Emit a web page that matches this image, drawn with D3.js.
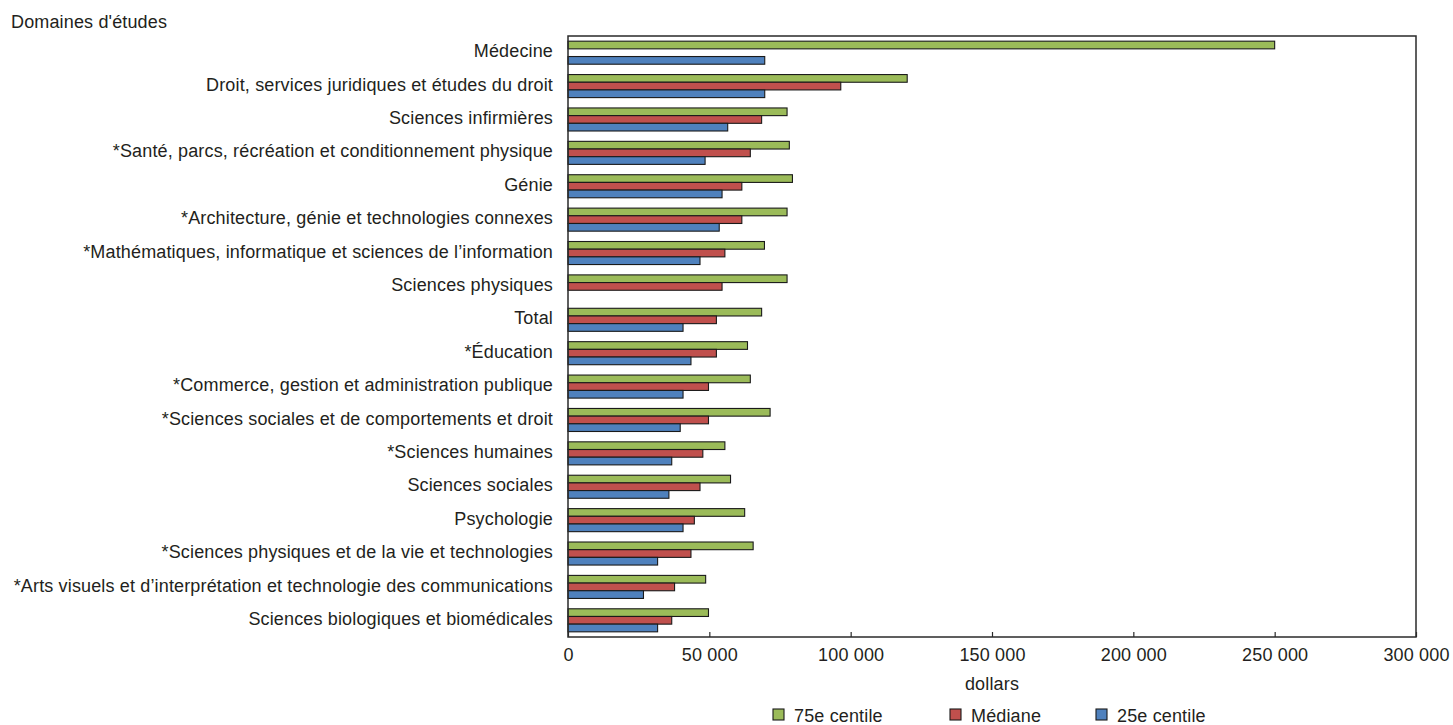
<!DOCTYPE html>
<html>
<head>
<meta charset="utf-8">
<script src="https://cdn.jsdelivr.net/npm/d3@7"></script>
<style>
  html, body { margin: 0; padding: 0; background: #ffffff; }
  svg text { font-family: "Liberation Sans", Arial, sans-serif; fill: #231f20; }
</style>
</head>
<body>
<svg id="chart" width="1453" height="725"></svg>
<script>
const categories = [
  "Médecine",
  "Droit, services juridiques et études du droit",
  "Sciences infirmières",
  "*Santé, parcs, récréation et conditionnement physique",
  "Génie",
  "*Architecture, génie et technologies connexes",
  "*Mathématiques, informatique et sciences de l’information",
  "Sciences physiques",
  "Total",
  "*Éducation",
  "*Commerce, gestion et administration publique",
  "*Sciences sociales et de comportements et droit",
  "*Sciences humaines",
  "Sciences sociales",
  "Psychologie",
  "*Sciences physiques et de la vie et technologies",
  "*Arts visuels et d’interprétation et technologie des communications",
  "Sciences biologiques et biomédicales"
];
const p75 =    [250000, 120000, 77500, 78300, 79400, 77500, 69500, 77500, 68500, 63500, 64500, 71500, 55500, 57500, 62500, 65500, 48700, 49700];
const median = [null,    96500, 68500, 64500, 61500, 61500, 55500, 54500, 52500, 52500, 49700, 49700, 47700, 46700, 44700, 43500, 37700, 36700];
const p25 =    [69600,   69600, 56500, 48500, 54500, 53500, 46700, null,  40700, 43500, 40700, 39700, 36700, 35700, 40700, 31700, 26700, 31700];
const seriesNames = ["75e centile", "Médiane", "25e centile"];
const seriesColors = ["#9bbb59", "#c0504d", "#4f81bd"];
const xTicks = [0, 50000, 100000, 150000, 200000, 250000, 300000];
const axisTitle = "dollars";
const yTitle = "Domaines d'études";

const svg = d3.select("#chart");
const plot = { left: 568, right: 1416, top: 36, bottom: 637 };
const FS = "18px", LS = "0.15px";

const x = d3.scaleLinear().domain([0, 300000]).range([plot.left, plot.right]);
const y = d3.scaleBand().domain(categories).range([plot.top, plot.bottom]).paddingInner(0.31).paddingOuter(0.155);
const ySub = d3.scaleBand().domain([0, 1, 2]).range([0, y.bandwidth()]);

const series = [p75, median, p25];

// bars
series.forEach((vals, si) => {
  svg.append("g").selectAll("rect")
    .data(categories.map((c, i) => ({ c, v: vals[i] })).filter(d => d.v != null))
    .join("rect")
    .attr("x", x(0))
    .attr("y", d => y(d.c) + ySub(si))
    .attr("width", d => x(d.v) - x(0))
    .attr("height", ySub.bandwidth())
    .attr("fill", seriesColors[si])
    .attr("stroke", "#1a1a1a")
    .attr("stroke-width", 1.1);
});

// frame
svg.append("rect")
  .attr("x", plot.left).attr("y", plot.top)
  .attr("width", plot.right - plot.left).attr("height", plot.bottom - plot.top)
  .attr("fill", "none").attr("stroke", "#2a2a2a").attr("stroke-width", 1.5);

// x axis
const fmt = v => d3.format(",")(v).replace(/,/g, " ");
const xAxis = d3.axisBottom(x).tickValues(xTicks).tickSize(-5).tickSizeOuter(0).tickFormat(fmt);
const gx = svg.append("g").attr("transform", `translate(0,${plot.bottom})`).call(xAxis);
gx.select(".domain").remove();
gx.attr("font-family", null).attr("font-size", null);
gx.selectAll(".tick line").attr("stroke", "#2a2a2a").attr("stroke-width", 1.2);
gx.selectAll(".tick text")
  .attr("y", 24).attr("dy", null).attr("fill", null)
  .style("font-size", FS).style("letter-spacing", LS);

// x title
svg.append("text").attr("x", (plot.left + plot.right) / 2).attr("y", 690)
  .attr("text-anchor", "middle").style("font-size", FS).style("letter-spacing", LS).text(axisTitle);

// category labels
svg.append("g").selectAll("text").data(categories).join("text")
  .attr("x", plot.left - 15)
  .attr("y", d => y(d) + y.bandwidth() / 2 + 4.6)
  .attr("text-anchor", "end")
  .style("font-size", FS).style("letter-spacing", LS)
  .text(d => d);

// y title
svg.append("text").attr("x", 11).attr("y", 28)
  .style("font-size", FS).style("letter-spacing", LS).text(yTitle);

// legend
const legendX = [773, 950, 1096];
const lg = svg.append("g").selectAll("g").data(seriesNames).join("g")
  .attr("transform", (d, i) => `translate(${legendX[i]},709)`);
lg.append("rect").attr("width", 11).attr("height", 11)
  .attr("fill", (d, i) => seriesColors[i]).attr("stroke", "#1a1a1a").attr("stroke-width", 1.1);
lg.append("text").attr("x", 21).attr("y", 12.5)
  .style("font-size", FS).style("letter-spacing", LS).text(d => d);
</script>
</body>
</html>
